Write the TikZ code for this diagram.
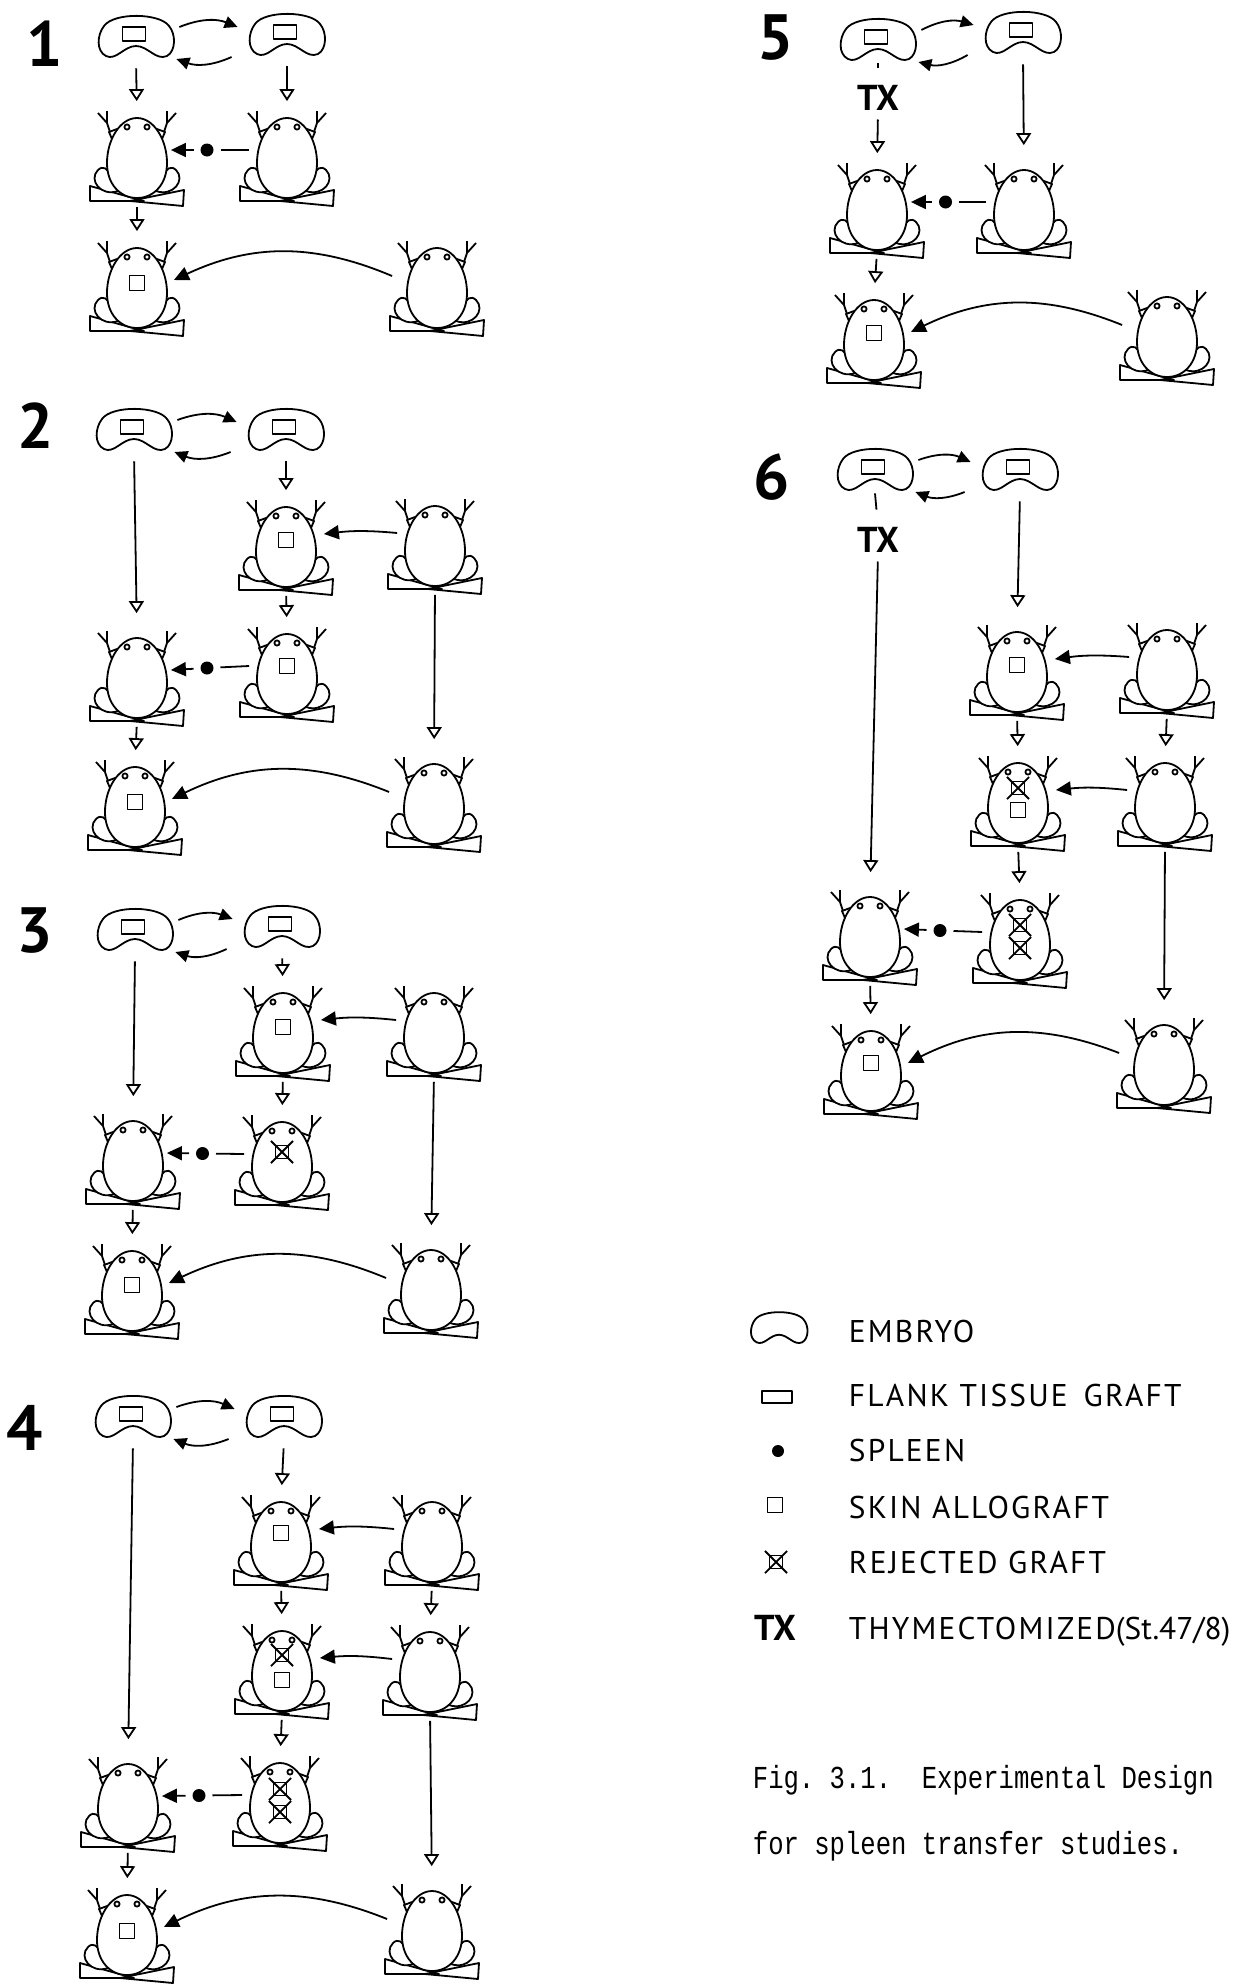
\documentclass[tikz,border=0pt]{standalone}
\usepackage{fontspec}
\setmainfont{PT Sans}
\newfontfamily\lgdfont[LetterSpace=7]{PT Sans}
\newfontfamily\numfont{PT Sans}
\newfontfamily\typefont{Liberation Mono}
\usetikzlibrary{arrows.meta,calc}

\tikzset{%
  frog/.style={minimum width=30pt,minimum height=40pt,inner sep=0pt},
  embryo/.style={minimum width=37.5pt,minimum height=22.5pt,inner sep=0pt},
  flank/.style={draw,fill=white,minimum width=11.5pt,minimum height=7pt,inner sep=0pt},
  skin/.style={draw,fill=white,minimum size=7.5pt,inner sep=0pt},
  rejected/.style={draw,fill=white,minimum size=6.5pt,inner sep=0pt},
  spleen/.style={circle,fill=black,minimum size=6.5pt,inner sep=0pt,outer sep=3.5pt},
  panel/.style={font=\numfont\fontsize{32}{32}\selectfont\bfseries,inner sep=0pt},
  tx/.style={font=\numfont\fontsize{18}{18}\selectfont\bfseries,inner sep=0pt},
  lgd/.style={font=\lgdfont\fontsize{15.7}{18}\selectfont,inner sep=0pt,anchor=base west},
  capt/.style={font=\typefont\fontsize{12.8}{14}\selectfont,inner sep=0pt,anchor=base west},
  dev/.style={-{Triangle[fill=white,length=6pt,width=7.5pt]},shorten <=4pt,shorten >=8pt},
  devlong/.style={dev,shorten >=12pt},
  transfer/.style={-{Triangle[length=7.5pt,width=7pt]}},
  xchg/.style={-{Triangle[length=6.5pt,width=6pt]}},
  bean/.pic={%
    \draw (0,9) .. controls (12,9) and (20,24) .. (31,19)
      .. controls (40,14) and (40,-3) .. (33,-11)
      .. controls (24,-24) and (-22,-25) .. (-32,-11)
      .. controls (-39,-2) and (-40,14) .. (-30,19)
      .. controls (-20,24) and (-12,9) .. cycle;},
  frogpic/.pic={%
    % feet
    \draw (7,43) -- (-47,28) -- (-47,43) -- cycle;
    \draw (-7,43) -- (47,32) -- (46,48) -- cycle;
    % thighs
    \draw[fill=white] (-19,33) .. controls (-36,39) and (-49,22) .. (-39,12)
      .. controls (-34,7) and (-29,11) .. (-27,17);
    \draw[fill=white] (19,33) .. controls (36,39) and (49,22) .. (39,12)
      .. controls (34,7) and (29,11) .. (27,17);
    % body
    \draw[fill=white] (0,-40) .. controls (17,-40) and (30,-18) .. (30,5)
      .. controls (30,26) and (17,40) .. (0,40)
      .. controls (-17,40) and (-30,26) .. (-30,5)
      .. controls (-30,-18) and (-17,-40) .. cycle;
    % arms
    \draw (-20,-29) -- (-28,-26) -- (-25,-19);
    \draw (20,-29) -- (28,-26) -- (25,-19);
    \draw (-27,-26) -- (-30,-35) -- (-39,-45) (-30,-35) -- (-30,-47);
    \draw (27,-26) -- (30,-35) -- (39,-45) (30,-35) -- (30,-47);
    % eyes
    \draw (-10,-31) circle[radius=2.6] (10,-31) circle[radius=2.6];},
}

\begin{document}
\begin{tikzpicture}[x=0.5pt,y=-0.5pt,line width=0.9pt,line join=round]
    \useasboundingbox (0,0) rectangle (1244,1986);

    % panel numbers
    \node[panel] (n1) at (45,44) {1};
    \node[panel] (n2) at (36,426) {2};
    \node[panel] (n3) at (35,931) {3};
    \node[panel] (n4) at (25,1428) {4};
    \node[panel] (n5) at (776,38) {5};
    \node[panel] (n6) at (772,477) {6};

    % embryos
    \foreach \n/\x/\y in {p1ea/136/37, p1eb/287/35, p2ea/134/430, p2eb/286/430,
        p3ea/135/930, p3eb/282/927, p4ea/133/1417, p4eb/284/1417,
        p5ea/878/40, p5eb/1023/33, p6ea/875/470, p6eb/1020/470} {
      \node[embryo] (\n) at (\x,\y) {};
      \pic at (\n) {bean};
      \node[flank] (\n g) at ($(\n)+(-2,-3)$) {};
    }

    % frogs
    \foreach \n/\x/\y in {p1a1/137/158, p1b1/287/158, p1a2/137/288, p1c2/437/288,
        p2b1/286/547, p2c1/435/546, p2a2/137/678, p2b2/287/674, p2a3/135/807, p2c3/434/804,
        p3b1/283/1033, p3c1/434/1033, p3a2/133/1161, p3b2/282/1162, p3a3/132/1291, p3c3/431/1290,
        p4b1/281/1542, p4c1/432/1542, p4b2/282/1671, p4c2/430/1672,
        p4a3/128/1804, p4b3/280/1803, p4a4/127/1935, p4c4/432/1931,
        p5a1/877/210, p5b1/1024/210, p5a2/874/340, p5c2/1167/337,
        p6b1/1017/672, p6c1/1167/670, p6b2/1018/803, p6c2/1165/803,
        p6a3/870/937, p6b3/1020/940, p6a4/871/1071, p6c4/1164/1065} {
      \node[frog] (\n) at (\x,\y) {};
      \pic at (\n) {frogpic};
    }

    % grafts on the frogs
    \foreach \g/\f/\d/\s in {g1/p1a2/-5/skin, g2/p2b1/-7/skin, g3/p2b2/-8/skin, g4/p2a3/-5/skin,
        g5/p3b1/-6/skin, g6/p3b2/-10/rejected, g7/p3a3/-6/skin, g8/p4b1/-9/skin,
        g9/p4b2/-16/rejected, g10/p4b2/9/skin, g11/p4b3/-14/rejected, g12/p4b3/9/rejected,
        g13/p4a4/-4/skin, g14/p5a2/-7/skin, g15/p6b1/-7/skin, g16/p6b2/-15/rejected,
        g17/p6b2/7/skin, g18/p6b3/-15/rejected, g19/p6b3/8/rejected, g20/p6a4/-8/skin}
      \node[\s] (\g) at ($(\f)+(0,\d)$) {};

    % thymectomy
    \node[tx] (tx5) at (878,98) {TX};
    \node[tx] (tx6) at (878,540) {TX};
    \draw[shorten >=8.5pt] (p5ea.south) -- (tx5.north);
    \draw[shorten >=8.5pt] (p6ea.south) -- (tx6.north);

    % legend
    \coordinate (lemb) at (779,1328);
    \pic[scale=0.75] at (lemb) {bean};
    \node[flank,minimum width=15pt,minimum height=6pt] (lflank) at (777,1397) {};
    \node[spleen,minimum size=6pt] (lspl) at (778,1451) {};
    \node[skin] (lskin) at (775,1505) {};
    \node[rejected] (lrej) at (776,1562) {};
    \node[tx,anchor=base] (ltx) at (775,1640) {TX};
    \node[lgd] (t1) at (848,1342) {EMBRYO};
    \node[lgd] (t2) at (848,1406) {FLANK TISSUE\, GRAFT};
    \node[lgd] (t3) at (848,1461) {SPLEEN};
    \node[lgd] (t4) at (848,1518) {SKIN ALLOGRAFT};
    \node[lgd] (t5) at (848,1573) {REJECTED GRAFT};
    \node[lgd] (t6) at (848,1639) {THYMECTOMIZED{\numfont(St.47/8)}};

    % rejected grafts are crossed out
    \foreach \g in {g6,g9,g11,g12,g16,g18,g19,lrej}
      \draw ($(\g.north west)!-0.25!(\g.south east)$) -- ($(\g.south east)!-0.25!(\g.north west)$)
            ($(\g.north east)!-0.25!(\g.south west)$) -- ($(\g.south west)!-0.25!(\g.north east)$);

    % caption
    \node[capt] (cap1) at (752,1788) {\scalebox{1}[1.25]{Fig.~3.1.~~Experimental~Design}};
    \node[capt] (cap2) at (752,1854) {\scalebox{1}[1.25]{for~spleen~transfer~studies.}};

    % grafting between embryos
    \foreach \k in {1,...,6} {
      \draw[xchg] ($(p\k ea.east)+(5,-10)$) to[bend left=22] ($(p\k eb.west)+(-11,-8)$);
      \draw[xchg] ($(p\k eb.west)+(-17,22)$) to[bend left=22] ($(p\k ea.east)+(2,22)$);
    }

    % development
    \foreach \u/\v in {p1ea/p1a1, p1eb/p1b1, p1a1/p1a2, p2eb/p2b1, p2b1/p2b2, p2a2/p2a3,
        p3eb/p3b1, p3b1/p3b2, p3a2/p3a3, p4eb/p4b1, p4b1/p4b2, p4c1/p4c2, p4b2/p4b3,
        p4a3/p4a4, tx5/p5a1, p5a1/p5a2, p6b1/p6b2, p6c1/p6c2, p6b2/p6b3, p6a3/p6a4}
      \draw[dev] (\u.south) -- (\v.north);
    \foreach \u/\v in {p2ea/p2a2, p2c1/p2c3, p3ea/p3a2, p3c1/p3c3, p4ea/p4a3, p4c2/p4c4,
        p5eb/p5b1, tx6/p6a3, p6eb/p6b1, p6c2/p6c4}
      \draw[devlong] (\u.south) -- (\v.north);

    % spleen transfers
    \foreach \a/\b/\s in {p1a1/p1b1/sp1, p2a2/p2b2/sp2, p3a2/p3b2/sp3,
        p4a3/p4b3/sp4, p5a1/p5b1/sp5, p6a3/p6b3/sp6} {
      \node[spleen] (\s) at ($(\a.east)!0.5!(\b.west)+(-5,-8)$) {};
      \draw (\s) -- ($(\b.west)+(-7,-8)$);
      \draw[transfer] (\s) -- ($(\a.east)+(3,-8)$);
    }

    % skin grafts
    \foreach \c/\b in {p2c1/p2b1, p3c1/p3b1, p4c1/p4b1, p4c2/p4b2, p6c1/p6b1, p6c2/p6b2}
      \draw[transfer] ($(\c.west)+(-7,-13)$) to[bend right=6] ($(\b.east)+(7,-13)$);
    \foreach \c/\a in {p1c2/p1a2, p2c3/p2a3, p3c3/p3a3, p4c4/p4a4, p5c2/p5a2, p6c4/p6a4}
      \draw[transfer] ($(\c.west)+(-14,-12)$) to[bend right=24] ($(\a.east)+(6,-8)$);
\end{tikzpicture}
\end{document}
